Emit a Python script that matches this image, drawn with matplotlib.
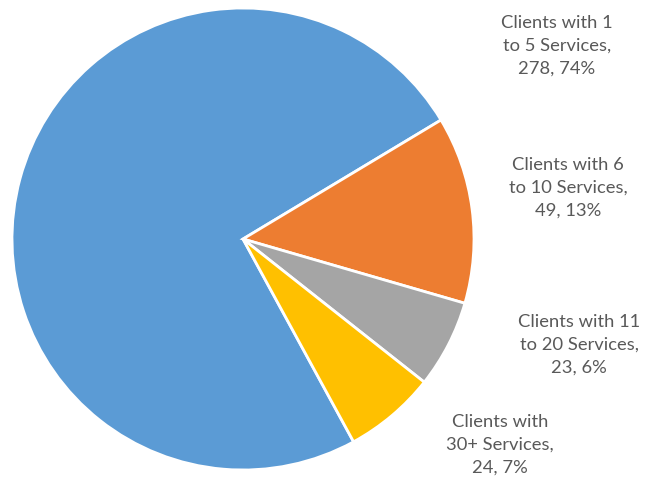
import matplotlib.pyplot as plt

categories = ["Clients with 1\nto 5 Services", "Clients with 6\nto 10 Services",
              "Clients with 11\nto 20 Services", "Clients with\n30+ Services"]
counts = [278, 49, 23, 24]
percents = [74, 13, 6, 7]
colors = ["#5B9BD5", "#ED7D31", "#A5A5A5", "#FFC000"]

W, H = 654, 481
fig = plt.figure(figsize=(W / 100, H / 100), dpi=100)

# pie centred at (243, 240) px with radius 231 px
cx, cy, r = 243, 240, 231
ax = fig.add_axes([(cx - r) / W, (H - cy - r) / H, 2 * r / W, 2 * r / H])
ax.pie(counts, colors=colors, startangle=-61.4, counterclock=False,
       radius=1, wedgeprops=dict(edgecolor="white", linewidth=2))
ax.set_xlim(-1.0, 1.0)
ax.set_ylim(-1.0, 1.0)
ax.set_aspect("equal")
ax.axis("off")

# label centres in pixels
label_pos = [(557, 46), (568, 188), (579, 345), (500, 445)]
for cat, n, p, (x, y) in zip(categories, counts, percents, label_pos):
    fig.text(x / W, 1 - y / H, f"{cat},\n{n}, {p}%", ha="center", va="center",
             fontsize=13.2, color="#595959", family="Lato", linespacing=1.5)

fig.savefig("out.png", dpi=100)
